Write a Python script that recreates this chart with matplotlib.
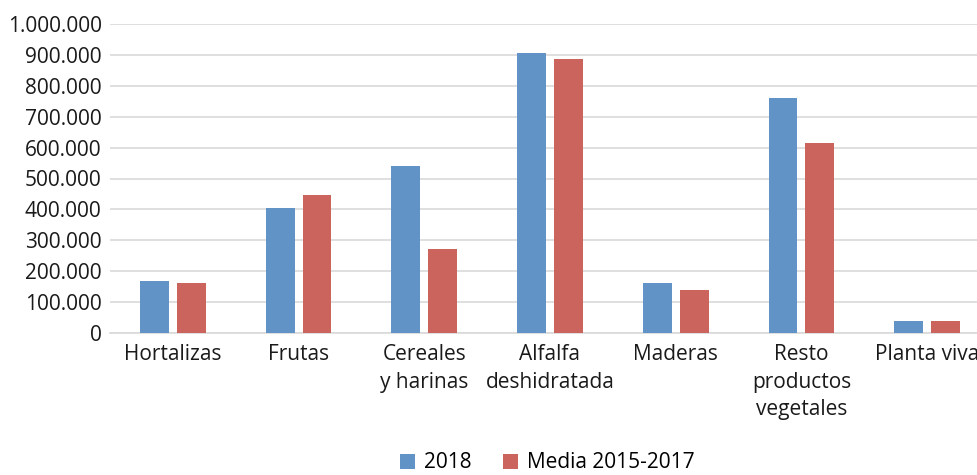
import matplotlib
matplotlib.use("Agg")
import matplotlib.pyplot as plt
import numpy as np
from matplotlib.ticker import FuncFormatter

categories = ["Hortalizas", "Frutas", "Cereales\ny harinas", "Alfalfa\ndeshidratada",
              "Maderas", "Resto\nproductos\nvegetales", "Planta viva"]
serie_2018 = [168500, 404000, 540000, 906000, 161000, 760000, 38000]
serie_media = [161000, 447000, 271000, 887000, 138000, 614000, 38000]
labels = ["2018", "Media 2015-2017"]
yticks = list(range(0, 1000001, 100000))

plt.rcParams['font.family'] = ['Open Sans', 'DejaVu Sans']

fig = plt.figure(figsize=(9.78, 4.75), dpi=100)
ax = fig.add_axes([110/978, 1-333/475, 880/978, (333-24)/475])

x = np.arange(len(categories))
w = 0.23
gap = 0.063
ax.bar(x - (w+gap)/2, serie_2018, width=w, color="#6193C6", label=labels[0], zorder=3)
ax.bar(x + (w+gap)/2, serie_media, width=w, color="#CC645E", label=labels[1], zorder=3)

fs = 15
ax.set_xlim(-0.5, len(categories)-0.5)
ax.set_ylim(0, 1000000)
ax.set_yticks(yticks)
ax.yaxis.set_major_formatter(FuncFormatter(lambda v, p: f"{int(v):,}".replace(",", ".")))
ax.grid(axis='y', color="#d9d9d9", linewidth=1.2, zorder=0)
for s in ["top", "right", "left"]:
    ax.spines[s].set_visible(False)
ax.spines["bottom"].set_color("#d9d9d9")
ax.spines["bottom"].set_linewidth(1.2)
ax.set_xticks(x)
ax.set_xticklabels(categories, fontsize=fs, linespacing=1.4)
ax.tick_params(axis='both', length=0, labelsize=fs, colors="#1a1a1a")
ax.tick_params(axis='x', pad=8)
ax.tick_params(axis='y', pad=6)

leg = fig.legend(loc="center", bbox_to_anchor=(547/978, 1-463/475), ncol=2, frameon=False,
                 fontsize=fs, handlelength=0.75, handleheight=0.75, columnspacing=1.5,
                 handletextpad=0.4)
fig.savefig("out.png", dpi=100)
